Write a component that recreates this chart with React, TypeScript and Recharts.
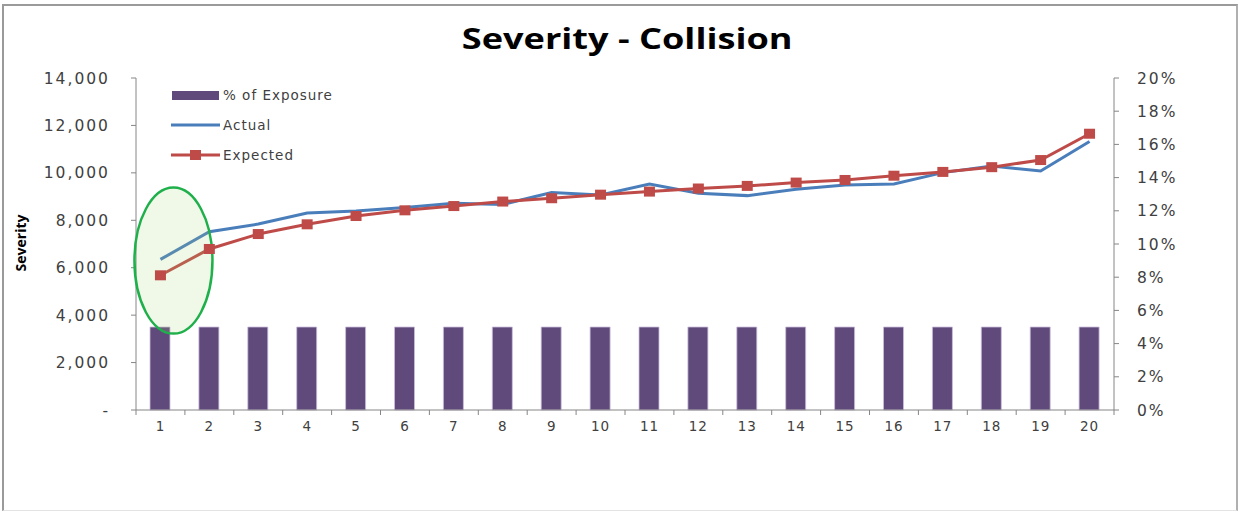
import React from 'react';
import {
  ComposedChart,
  Bar,
  Line,
  XAxis,
  YAxis,
  ReferenceDot,
} from 'recharts';

// ---- data ----
const categories = [1, 2, 3, 4, 5, 6, 7, 8, 9, 10, 11, 12, 13, 14, 15, 16, 17, 18, 19, 20];
const exposureShare = [0.05, 0.05, 0.05, 0.05, 0.05, 0.05, 0.05, 0.05, 0.05, 0.05, 0.05, 0.05, 0.05, 0.05, 0.05, 0.05, 0.05, 0.05, 0.05, 0.05];
const actualSeverity = [6350, 7520, 7840, 8310, 8390, 8540, 8720, 8670, 9170, 9070, 9530, 9140, 9040, 9310, 9490, 9530, 10010, 10290, 10080, 11320];
const expectedSeverity = [5680, 6790, 7420, 7830, 8180, 8420, 8600, 8790, 8930, 9080, 9210, 9340, 9450, 9590, 9700, 9880, 10040, 10240, 10540, 11650];
const severityTicks = [0, 2000, 4000, 6000, 8000, 10000, 12000, 14000];
const shareTicks = [0, 0.02, 0.04, 0.06, 0.08, 0.1, 0.12, 0.14, 0.16, 0.18, 0.2];

const data = categories.map((c, i) => ({
  cat: c,
  exposure: exposureShare[i],
  actual: actualSeverity[i],
  expected: expectedSeverity[i],
}));

// ---- layout ----
const W = 1242;
const H = 515;
const PLOT_LEFT = 136;
const PLOT_RIGHT = 1114;
const PLOT_TOP = 78;
const PLOT_BOTTOM = 410;
const X_AXIS_H = 30;
const BAND = (PLOT_RIGHT - PLOT_LEFT) / categories.length;

const AXIS = '#868686';
const TEXT = '#404040';
const PURPLE = '#604a7b';
const BLUE = '#4a7ebb';
const RED = '#be4b48';
const TICK_FONT = 'DejaVu Sans, Verdana, sans-serif';

const fmtSeverity = (v: number) => (v === 0 ? '-' : v.toLocaleString('en-US'));
const fmtShare = (v: number) => `${Math.round(v * 100)}%`;

const CategoryTick = (props: any) => {
  const { x, payload, index } = props;
  const left = x - BAND / 2;
  const right = x + BAND / 2;
  return (
    <g>
      <line x1={left} y1={PLOT_BOTTOM} x2={left} y2={PLOT_BOTTOM + 5} stroke={AXIS} />
      {index === categories.length - 1 && (
        <line x1={right} y1={PLOT_BOTTOM} x2={right} y2={PLOT_BOTTOM + 5} stroke={AXIS} />
      )}
      <text
        x={x}
        y={PLOT_BOTTOM + 21}
        textAnchor="middle"
        fontFamily={TICK_FONT}
        fontSize={13.5}
        letterSpacing={0.9}
        fill={TEXT}
      >
        {payload.value}
      </text>
    </g>
  );
};

const LegendBox = () => (
  <svg width={200} height={80} style={{ display: 'block' }}>
    <rect x={1} y={6} width={47} height={9} fill={PURPLE} />
    <text x={52} y={15} fontFamily={TICK_FONT} fontSize={13.5} letterSpacing={1} fill={TEXT}>
      % of Exposure
    </text>
    <line x1={0} y1={40} x2={49} y2={40} stroke={BLUE} strokeWidth={3} />
    <text x={52} y={45} fontFamily={TICK_FONT} fontSize={13.5} letterSpacing={1} fill={TEXT}>
      Actual
    </text>
    <line x1={0} y1={70} x2={49} y2={70} stroke={RED} strokeWidth={3} />
    <rect x={19} y={65} width={11} height={10} fill={RED} />
    <text x={52} y={75} fontFamily={TICK_FONT} fontSize={13.5} letterSpacing={1} fill={TEXT}>
      Expected
    </text>
  </svg>
);

// Callout ring drawn around the first bucket
const Highlight = (props: any) => {
  const { cx, cy } = props;
  if (cx == null || cy == null) return <g />;
  return (
    <ellipse
      cx={cx + 13}
      cy={cy}
      rx={39}
      ry={73}
      fill="rgba(160, 210, 110, 0.16)"
      stroke="#1fb04b"
      strokeWidth={2.5}
    />
  );
};

export default function App() {
  return (
    <div style={{ position: 'absolute', left: 0, top: 0, width: W, height: H, background: '#fff' }}>
      <div
        style={{
          position: 'absolute',
          left: 2,
          top: 4,
          width: 1236,
          height: 507,
          borderLeft: '2px solid #9a9a9a',
          borderTop: '2px solid #9a9a9a',
          borderRight: '2px solid #b0b0b0',
          borderBottom: '1px solid #e4e4e4',
          boxSizing: 'border-box',
        }}
      />
      <div
        style={{
          position: 'absolute',
          left: 0,
          top: 18,
          width: 1254,
          textAlign: 'center',
          fontFamily: '"Open Sans", sans-serif',
          fontWeight: 700,
          fontSize: 28,
          lineHeight: '40px',
          color: '#000',
        }}
      >
        <span style={{ display: 'inline-block', transform: 'scaleX(1.29)', transformOrigin: 'center' }}>
          Severity - Collision
        </span>
      </div>
      <div style={{ position: 'absolute', left: 0, top: 0 }}>
        <ComposedChart
          width={W}
          height={H}
          data={data}
          margin={{ top: PLOT_TOP, right: 0, bottom: H - PLOT_BOTTOM - X_AXIS_H, left: 0 }}
          barCategoryGap={0}
        >
          <XAxis
            dataKey="cat"
            type="category"
            height={X_AXIS_H}
            axisLine={{ stroke: AXIS }}
            tickLine={false}
            tick={<CategoryTick />}
            interval={0}
          />
          <YAxis
            yAxisId="left"
            width={PLOT_LEFT}
            domain={[0, 14000]}
            ticks={severityTicks}
            tickFormatter={fmtSeverity}
            axisLine={{ stroke: AXIS }}
            tickLine={{ stroke: AXIS }}
            tickSize={5}
            tickMargin={21}
            tick={{ fontFamily: TICK_FONT, fontSize: 15.5, fill: TEXT, letterSpacing: 2 }}
            label={{
              content: () => (
                <text
                  x={26}
                  y={243}
                  transform="rotate(-90 26 243)"
                  textAnchor="middle"
                  fontFamily='"Open Sans", sans-serif'
                  fontWeight={700}
                  fontSize={14}
                  fill="#000"
                >
                  Severity
                </text>
              ),
            }}
          />
          <YAxis
            yAxisId="right"
            orientation="right"
            width={W - PLOT_RIGHT}
            domain={[0, 0.2]}
            ticks={shareTicks}
            tickFormatter={fmtShare}
            axisLine={{ stroke: AXIS }}
            tickLine={{ stroke: AXIS }}
            tickSize={5}
            tickMargin={18}
            tick={{ fontFamily: TICK_FONT, fontSize: 15.5, fill: TEXT, letterSpacing: 2 }}
          />
          <Bar
            yAxisId="right"
            dataKey="exposure"
            name="% of Exposure"
            fill={PURPLE}
            stroke="#cbbfdc"
            strokeWidth={0.8}
            barSize={20}
            isAnimationActive={false}
          />
          <ReferenceDot
            yAxisId="left"
            x={1}
            y={6300}
            shape={<Highlight />}
            ifOverflow="visible"
          />
          <Line
            yAxisId="left"
            dataKey="actual"
            name="Actual"
            stroke={BLUE}
            strokeWidth={3}
            dot={false}
            activeDot={false}
            isAnimationActive={false}
          />
          <Line
            yAxisId="left"
            dataKey="expected"
            name="Expected"
            stroke={RED}
            strokeWidth={3}
            dot={(p: any) => (
              <rect
                key={`m-${p.index}`}
                x={p.cx - 5.5}
                y={p.cy - 5}
                width={11}
                height={10}
                fill={RED}
              />
            )}
            activeDot={false}
            isAnimationActive={false}
          />
        </ComposedChart>
      </div>
      <div style={{ position: 'absolute', left: 171, top: 85 }}>
        <LegendBox />
      </div>
    </div>
  );
}
